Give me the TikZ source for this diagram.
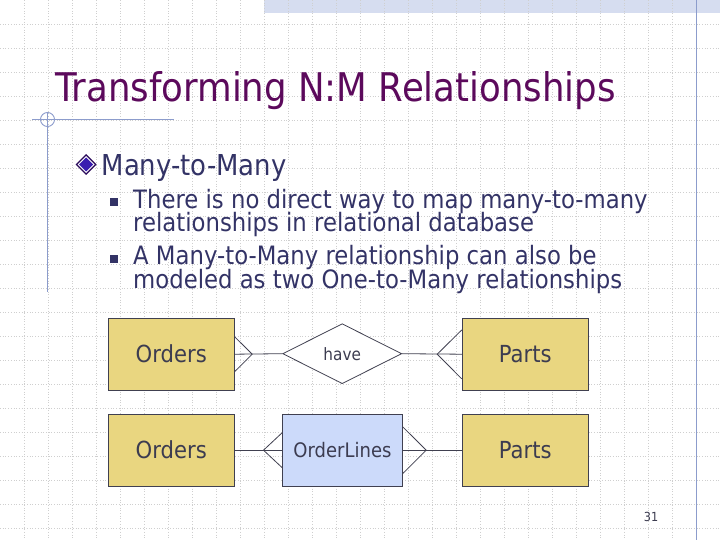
\documentclass[tikz,border=0pt]{standalone}
\usepackage{fontspec}
\setmainfont{DejaVu Sans}[FakeStretch=0.9]
\usetikzlibrary{shapes.geometric,positioning}

\definecolor{titlecol}{HTML}{5C0A5C}
\definecolor{textcol}{HTML}{333366}
\definecolor{boxtext}{HTML}{3C3C50}
\definecolor{decocol}{HTML}{8C9CCC}
\definecolor{gridcol}{HTML}{CFCFCF}
\definecolor{bandcol}{HTML}{D6DDF0}
\definecolor{tancol}{HTML}{E9D680}
\definecolor{bluecol}{HTML}{CCDAFA}
\definecolor{linecol}{HTML}{404050}
\definecolor{bulletout}{HTML}{2A0A5A}
\definecolor{bulletin}{HTML}{3A1CB0}

\tikzset{
 entity/.style={draw=linecol,line width=1pt,fill=tancol,text=boxtext,
  minimum width=126pt,minimum height=72pt,inner sep=0pt,font=\fontsize{23.5}{28}\selectfont},
 relation/.style={diamond,draw=linecol,line width=0.8pt,fill=white,text=boxtext,
  minimum width=119pt,minimum height=60pt,inner sep=0pt,font=\fontsize{17}{20}\selectfont},
 link/.style={draw=linecol,line width=0.8pt},
 gridline/.style={gridcol,dotted,line width=0.7pt},
 deco/.style={decocol,line width=1.1pt},
 bodytext/.style={anchor=base west,inner sep=0pt,text=textcol,font=\fontsize{25.3}{24}\selectfont}
}

\begin{document}
\begin{tikzpicture}[x=1pt,y=-1pt]
 \useasboundingbox (0,0) rectangle (720,540); % ページ

 \fill[bandcol] (264,0) rectangle (720,12.7); % 上の帯
 \foreach \i in {1,...,29} \draw[gridline] (24*\i,0) -- (24*\i,540); % 縦の格子
 \foreach \j in {1,...,22} \draw[gridline] (0,24*\j) -- (720,24*\j); % 横の格子

 \draw[deco] (696.7,0) -- (696.7,540); % 右の縦線
 \draw[deco] (32,119.5) -- (174,119.5); % 横線
 \draw[deco] (47.5,112) -- (47.5,292); % 左の縦線
 \draw[decocol,line width=0.9pt] (47.5,119.5) circle (7); % 円

 % タイトル
 \node[anchor=base west,inner sep=0pt,text=titlecol,font=\fontsize{39.5}{44}\selectfont]
  (title) at (55,101.7) {Transforming N:M Relationships};

 % 見出し
 \fill[bulletout] (86,154) -- (96.5,164.5) -- (86,175) -- (75.5,164.5) -- cycle;
 \fill[white] (86,156) -- (94.5,164.5) -- (86,173) -- (77.5,164.5) -- cycle;
 \fill[bulletin] (86,157.5) -- (93,164.5) -- (86,171.5) -- (79,164.5) -- cycle;
 \node[bodytext,font=\fontsize{28.8}{30}\selectfont] (head) at (101.5,176) {Many-to-Many};

 % 箇条書き
 \fill[textcol] (110,198) rectangle (118,206);
 \fill[textcol] (110,255) rectangle (118,263);
 \node[bodytext] (l1) at (133,208.3) {There is no direct way to map many-to-many};
 \node[bodytext] (l2) at (133,232) {relationships in relational database};
 \node[bodytext] (l3) at (133,264) {A Many-to-Many relationship can also be};
 \node[bodytext] (l4) at (133,288) {modeled as two One-to-Many relationships};

 % 上の段
 \node[entity] (ord1) at (171.3,354.2) {Orders};
 \node[relation] (have) at (342.2,353.7) {have};
 \node[entity] (part1) at (525.3,354.2) {Parts};

 \draw[link] (ord1.east) -- (have.west); % 線分
 \draw[link] (have.east) -- (part1.west); % 線分
 \draw[link] ([yshift=-17.3pt]ord1.east) -- ([xshift=17.4pt]ord1.east) -- ([yshift=17.3pt]ord1.east); % 多
 \draw[link] ([yshift=-24.7pt]part1.west) -- ([xshift=-24.6pt]part1.west) -- ([yshift=24.3pt]part1.west); % 多

 % 下の段
 \node[entity] (ord2) at (171.3,450.2) {Orders};
 \node[entity,fill=bluecol,minimum width=119.6pt,font=\fontsize{20}{24}\selectfont] (lines) at (342.5,450.2) {OrderLines};
 \node[entity] (part2) at (525.3,450.2) {Parts};

 \draw[link] (ord2.east) -- (lines.west); % 線分
 \draw[link] (lines.east) -- (part2.west); % 線分
 \draw[link] ([yshift=-17.5pt]lines.west) -- ([xshift=-18.7pt]lines.west) -- ([yshift=17.5pt]lines.west); % 多
 \draw[link] ([yshift=-23.3pt]lines.east) -- ([xshift=23.4pt]lines.east) -- ([yshift=23.3pt]lines.east); % 多

 \node[anchor=base east,inner sep=0pt,text=boxtext,font=\fontsize{12.5}{14}\selectfont] (page) at (658.5,521.7) {31}; % ページ番号
\end{tikzpicture}
\end{document}
